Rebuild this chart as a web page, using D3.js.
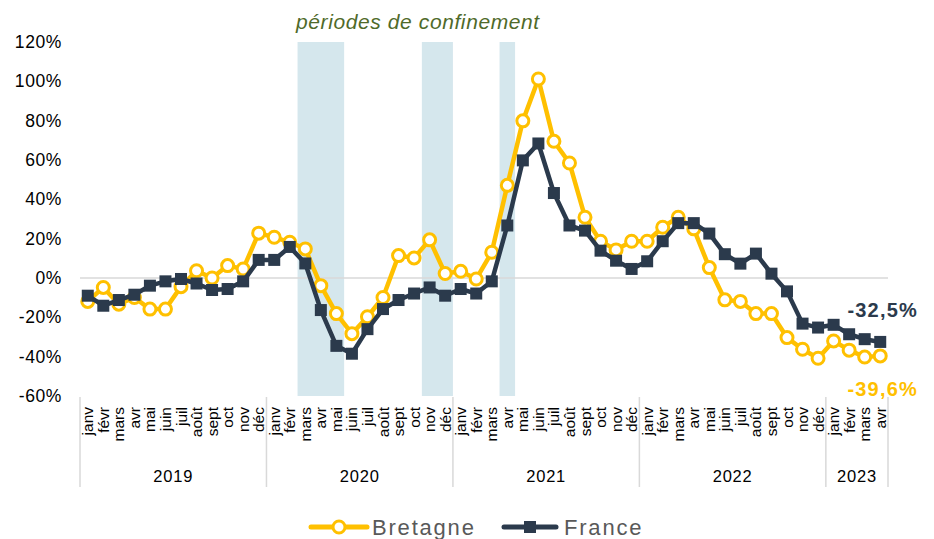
<!DOCTYPE html>
<html>
<head>
<meta charset="utf-8">
<script src="https://cdn.jsdelivr.net/npm/d3@7/dist/d3.min.js"></script>
<style>
  body { margin: 0; background: #fff; }
  svg { font-family: "Liberation Sans", Arial, sans-serif; }
</style>
</head>
<body>
<svg id="chart" width="934" height="539"></svg>
<script>
// data
var months = ['janv','févr','mars','avr','mai','juin','juil','août','sept','oct','nov','déc'];
var years = [2019, 2020, 2021, 2022, 2023];
var monthsPerYear = [12, 12, 12, 12, 4];

var bretagne = [-11.9, -4.8, -13.3, -9.9, -15.8, -15.8, -4.4, 3.7, 0, 6.3, 4.6, 22.8,
  20.7, 18.2, 14.8, -3.9, -18.1, -28.3, -19.7, -9.9, 11.4, 10.2, 19.4, 2.3,
  3.4, -0.5, 13.1, 47.1, 79.9, 101.2, 69.5, 58.5, 30.9, 18.7, 14.3, 18.7,
  18.7, 25.8, 30.9, 25.0, 5.3, -11.1, -11.9, -18.1, -18.1, -30.3, -36.2, -40.8,
  -32.0, -36.7, -40.2, -39.6];

var france = [-9.0, -14.1, -11.2, -8.5, -3.9, -1.7, -0.5, -2.8, -6.1, -5.6, -1.7, 9.2,
  9.2, 15.8, 7.4, -16.3, -34.5, -38.5, -26.0, -15.8, -11.2, -7.9, -4.8, -9.0,
  -5.6, -7.9, -1.7, 26.7, 59.8, 68.4, 43.2, 26.7, 24.1, 13.9, 8.8, 4.6,
  8.5, 18.7, 27.9, 27.9, 22.6, 12.1, 7.3, 12.4, 2.2, -6.8, -23.2, -25.2,
  -23.8, -28.6, -31.1, -32.5];

// confinement periods: [first month index, last month index]
var confinements = [[14, 16], [22, 23], [27, 27]];

var yTicks = [120, 100, 80, 60, 40, 20, 0, -20, -40, -60];

var colBret = '#FFC000';
var colFr = '#2B3A4C';

var svg = d3.select('#chart');

// build category list
var cats = [];
years.forEach(function(y, i) {
  for (var m = 0; m < monthsPerYear[i]; m++) cats.push({ year: y, month: months[m], key: y + '-' + m });
});

var x = d3.scaleBand().domain(cats.map(function(d) { return d.key; })).range([80, 888]);
var y = d3.scaleLinear().domain([-60, 120]).range([396, 42]);
var cx = function(i) { return x(cats[i].key) + x.bandwidth() / 2; };

// confinement bands
svg.append('g').selectAll('rect').data(confinements).enter().append('rect')
  .attr('x', function(d) { return x(cats[d[0]].key); })
  .attr('width', function(d) { return x(cats[d[1]].key) + x.bandwidth() - x(cats[d[0]].key); })
  .attr('y', y(120))
  .attr('height', y(-60) - y(120))
  .attr('fill', '#D5E7ED');

svg.append('text')
  .attr('x', 296).attr('y', 29)
  .attr('font-size', 21).attr('font-style', 'italic')
  .attr('letter-spacing', 0.6)
  .attr('fill', '#4F6A2A')
  .text('périodes de confinement');

// zero line
svg.append('line')
  .attr('x1', 80).attr('x2', 888)
  .attr('y1', y(0)).attr('y2', y(0))
  .attr('stroke', '#D9D9D9').attr('stroke-width', 1.5);

// y axis labels
svg.append('g').selectAll('text').data(yTicks).enter().append('text')
  .attr('x', 62).attr('y', function(d) { return y(d) + 6; })
  .attr('text-anchor', 'end').attr('font-size', 17.5).attr('letter-spacing', 0.6).attr('fill', '#000')
  .text(function(d) { return d + '%'; });

// x axis: month labels
svg.append('g').selectAll('text').data(cats).enter().append('text')
  .attr('transform', function(d, i) { return 'translate(' + (cx(i) + 5.5) + ',407) rotate(-90)'; })
  .attr('text-anchor', 'end').attr('font-size', 15.5).attr('fill', '#000')
  .text(function(d) { return d.month; });

// year separators and labels
var start = 0;
var bounds = [];
years.forEach(function(yr, i) {
  var x0 = x(cats[start].key);
  var x1 = x(cats[start + monthsPerYear[i] - 1].key) + x.bandwidth();
  bounds.push({ year: yr, x0: x0, x1: x1 });
  start += monthsPerYear[i];
});
svg.append('g').selectAll('line').data([bounds[0].x0].concat(bounds.map(function(b) { return b.x1; })))
  .enter().append('line')
  .attr('x1', function(d) { return d; }).attr('x2', function(d) { return d; })
  .attr('y1', 397).attr('y2', 487)
  .attr('stroke', '#D9D9D9').attr('stroke-width', 1.5);
svg.append('g').selectAll('text').data(bounds).enter().append('text')
  .attr('x', function(d) { return (d.x0 + d.x1) / 2; }).attr('y', 482)
  .attr('text-anchor', 'middle').attr('font-size', 16.5).attr('letter-spacing', 0.8).attr('fill', '#000')
  .text(function(d) { return d.year; });

// lines
var line = d3.line().x(function(d, i) { return cx(i); }).y(function(d) { return y(d); });

svg.append('path').datum(bretagne)
  .attr('d', line).attr('fill', 'none')
  .attr('stroke', colBret).attr('stroke-width', 4.5).attr('stroke-linejoin', 'round');
svg.append('g').selectAll('circle').data(bretagne).enter().append('circle')
  .attr('cx', function(d, i) { return cx(i); }).attr('cy', function(d) { return y(d); })
  .attr('r', 6).attr('fill', '#fff').attr('stroke', colBret).attr('stroke-width', 3);

svg.append('path').datum(france)
  .attr('d', line).attr('fill', 'none')
  .attr('stroke', colFr).attr('stroke-width', 4.5).attr('stroke-linejoin', 'round');
svg.append('g').selectAll('rect').data(france).enter().append('rect')
  .attr('x', function(d, i) { return cx(i) - 6; }).attr('y', function(d) { return y(d) - 6; })
  .attr('width', 12).attr('height', 12).attr('fill', colFr);

// end labels
var fmt = function(v) { return v.toFixed(1).replace('.', ',') + '%'; };
svg.append('text')
  .attr('x', 918).attr('y', 317).attr('text-anchor', 'end')
  .attr('font-size', 20).attr('font-weight', 'bold').attr('letter-spacing', 1.2).attr('fill', colFr)
  .text(fmt(france[france.length - 1]));
svg.append('text')
  .attr('x', 918).attr('y', 396).attr('text-anchor', 'end')
  .attr('font-size', 20).attr('font-weight', 'bold').attr('letter-spacing', 1.2).attr('fill', colBret)
  .text(fmt(bretagne[bretagne.length - 1]));

// legend
var lg = svg.append('g');
lg.append('line').attr('x1', 311).attr('x2', 367).attr('y1', 527).attr('y2', 527)
  .attr('stroke', colBret).attr('stroke-width', 5).attr('stroke-linecap', 'round');
lg.append('circle').attr('cx', 339).attr('cy', 527).attr('r', 6)
  .attr('fill', '#fff').attr('stroke', colBret).attr('stroke-width', 3);
lg.append('text').attr('x', 372).attr('y', 535).attr('font-size', 22).attr('fill', '#595959')
  .attr('letter-spacing', 1.8).text('Bretagne');
lg.append('line').attr('x1', 504).attr('x2', 556).attr('y1', 527).attr('y2', 527)
  .attr('stroke', colFr).attr('stroke-width', 5).attr('stroke-linecap', 'round');
lg.append('rect').attr('x', 524).attr('y', 521).attr('width', 12).attr('height', 12).attr('fill', colFr);
lg.append('text').attr('x', 564).attr('y', 535).attr('font-size', 22).attr('fill', '#595959')
  .attr('letter-spacing', 1.8).text('France');
</script>
</body>
</html>
